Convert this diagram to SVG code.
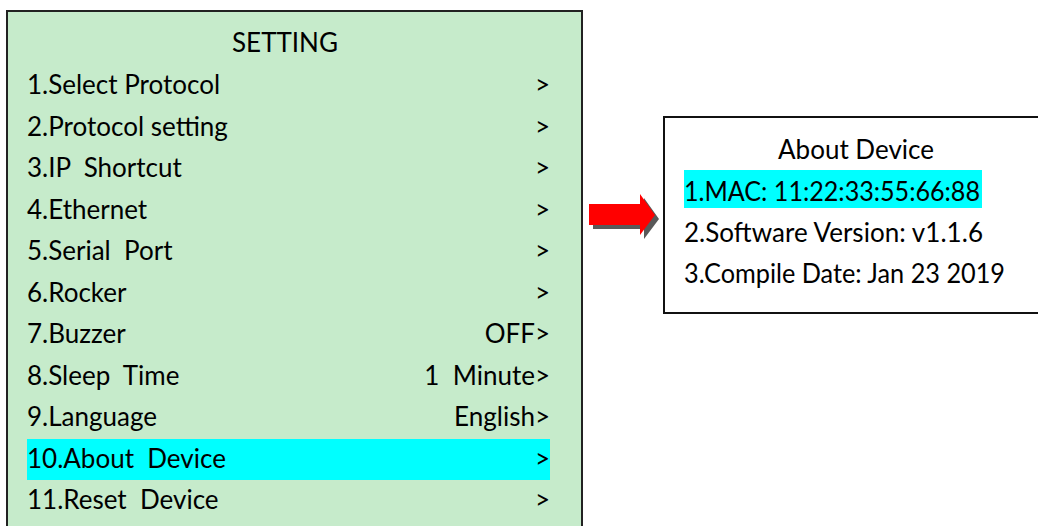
<svg xmlns="http://www.w3.org/2000/svg" width="1038" height="526" viewBox="0 0 1038 526">
<style>
text{font-family:Lato,"Open Sans","Liberation Sans",sans-serif;font-size:26px;fill:#000;white-space:pre}
.r{text-anchor:end}
.m{text-anchor:middle}
</style>
<rect width="1038" height="526" fill="#fff"/>
<g id="setting-menu">
<rect x="7" y="11" width="575" height="530" fill="#C6EBCB" stroke="#222" stroke-width="2"/>
<rect x="27" y="439" width="523" height="41" fill="#00FFFF"/>
<text class="m" x="285" y="52">SETTING</text>
<text x="27" y="94">1.Select Protocol</text><text class="r" x="550" y="94">&gt;</text>
<text x="27" y="136">2.Protocol setting</text><text class="r" x="550" y="136">&gt;</text>
<text x="27" y="177">3.IP  Shortcut</text><text class="r" x="550" y="177">&gt;</text>
<text x="27" y="219">4.Ethernet</text><text class="r" x="550" y="219">&gt;</text>
<text x="27" y="260">5.Serial  Port</text><text class="r" x="550" y="260">&gt;</text>
<text x="27" y="302">6.Rocker</text><text class="r" x="550" y="302">&gt;</text>
<text x="27" y="343">7.Buzzer</text><text class="r" x="550" y="343">OFF&gt;</text>
<text x="27" y="385">8.Sleep  Time</text><text class="r" x="550" y="385">1  Minute&gt;</text>
<text x="27" y="426">9.Language</text><text class="r" x="550" y="426">English&gt;</text>
<text x="27" y="468">10.About  Device</text><text class="r" x="550" y="468">&gt;</text>
<text x="27" y="509">11.Reset  Device</text><text class="r" x="550" y="509">&gt;</text>
</g>
<g id="connectors">
<polygon points="593,208 644,208 644,198 659,219 644,239 644,229 593,229" fill="#595959"/>
<polygon points="589,204 640,204 640,194 655,215 640,235 640,225 589,225" fill="#FF0000"/>
</g>
<g id="about-device">
<rect x="664" y="117" width="400" height="196" fill="#fff" stroke="#111" stroke-width="2"/>
<rect x="684" y="170" width="298" height="38" fill="#00FFFF"/>
<text class="m" x="856" y="159">About Device</text>
<text x="684" y="201" textLength="296" lengthAdjust="spacingAndGlyphs">1.MAC: 11:22:33:55:66:88</text>
<text x="684" y="242" textLength="299" lengthAdjust="spacing">2.Software Version: v1.1.6</text>
<text x="684" y="283" textLength="321" lengthAdjust="spacingAndGlyphs">3.Compile Date: Jan 23 2019</text>
</g>
</svg>
